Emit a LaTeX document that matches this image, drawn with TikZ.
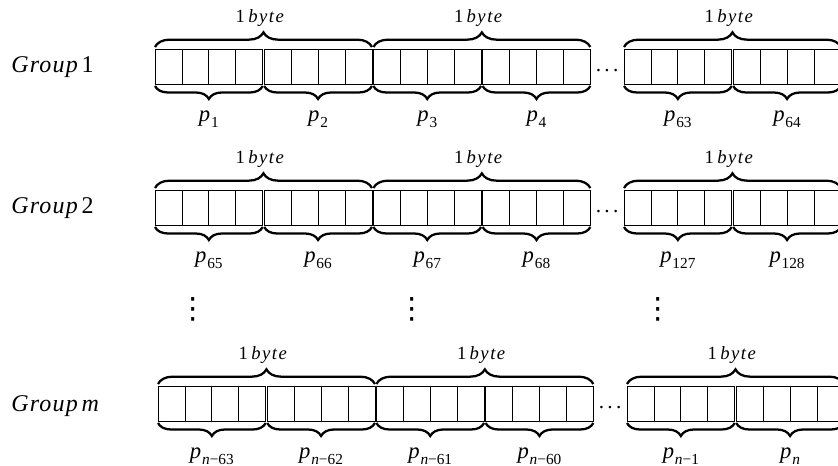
\documentclass[tikz,border=0pt]{standalone}
\usepackage{fontspec}
\setmainfont{Liberation Serif}
\newfontfamily\symfont{DejaVu Sans}
\usetikzlibrary{calc,decorations.pathreplacing}

% italic text with the loose spacing of math italic
\newcommand{\looseit}[2][5]{\textit{\addfontfeature{LetterSpace=#1}#2}}
% subscripted packet label p_{...}
\newcommand{\psub}[1]{\textit{p}\kern0.6pt\raisebox{-0.55ex}{\fontsize{11.5}{12}\selectfont #1}}

% one row of nibble blocks: name, top, x offset, six packet labels
\newcommand{\byterow}[9]{%
  \foreach \k/\x in {0/155,1/264.2,2/373.4,3/482.6,4/624,5/733.2} {
    \node[nib] (#1-\k) at (\x+#3,#2) {};
    \foreach \f in {0.25,0.5,0.75}
      \draw[cell] ($(#1-\k.north west)!\f!(#1-\k.north east)$) --
                  ($(#1-\k.south west)!\f!(#1-\k.south east)$);
    \draw[botbrace] ([yshift=-1.5pt]#1-\k.south west) -- ([yshift=-1.5pt]#1-\k.south east);
  }
  \draw[topbrace] ([yshift=1.5pt]#1-0.north west) -- ([yshift=1.5pt]#1-1.north east);
  \draw[topbrace] ([yshift=1.5pt]#1-2.north west) -- ([yshift=1.5pt]#1-3.north east);
  \draw[topbrace] ([yshift=1.5pt]#1-4.north west) -- ([yshift=1.5pt]#1-5.north east);
  \node[bytelab] (#1-b0) at ($(#1-0.north east)!0.5!(#1-1.north west)+(-3,-31)$) {1\kern2.5pt\looseit[8]{byte}};
  \node[bytelab] (#1-b1) at ($(#1-2.north east)!0.5!(#1-3.north west)+(-3,-31)$) {1\kern2.5pt\looseit[8]{byte}};
  \node[bytelab] (#1-b2) at ($(#1-4.north east)!0.5!(#1-5.north west)+(-3,-31)$) {1\kern2.5pt\looseit[8]{byte}};
  \node[plab] (#1-p0) at ($(#1-0.south)+(0,35)$) {#4};
  \node[plab] (#1-p1) at ($(#1-1.south)+(0,35)$) {#5};
  \node[plab] (#1-p2) at ($(#1-2.south)+(0,35)$) {#6};
  \node[plab] (#1-p3) at ($(#1-3.south)+(0,35)$) {#7};
  \node[plab] (#1-p4) at ($(#1-4.south)+(0,35)$) {#8};
  \node[plab] (#1-p5) at ($(#1-5.south)+(0,35)$) {#9};
  \node[hdots] (#1-dots) at ($(#1-3.east)!0.5!(#1-4.west)+(0,5)$) {.\kern2.4pt.\kern2.4pt.};
}

\begin{document}
\begin{tikzpicture}[x=0.75pt, y=-0.75pt,
  nib/.style={draw, line width=0.6pt, anchor=north west, inner sep=0pt, outer sep=0pt,
              minimum width=80.8pt, minimum height=26.25pt},
  cell/.style={line width=0.6pt},
  topbrace/.style={decorate, decoration={brace, amplitude=11pt}, line width=1.7pt},
  botbrace/.style={decorate, decoration={brace, mirror, amplitude=9.75pt}, line width=1.7pt},
  bytelab/.style={font=\fontsize{14}{16}\selectfont, inner sep=0pt},
  plab/.style={font=\fontsize{17}{19}\selectfont, inner sep=0pt},
  grouplab/.style={font=\fontsize{18}{20}\selectfont, anchor=base west, inner sep=0pt},
  hdots/.style={font=\fontsize{16}{16}\selectfont, anchor=base, inner sep=0pt},
  vdots/.style={font=\symfont\fontsize{22}{22}\selectfont, inner sep=0pt}]

\useasboundingbox (0,0) rectangle (838,466);

\byterow{r1}{49}{0}{\psub{1}}{\psub{2}}{\psub{3}}{\psub{4}}{\psub{63}}{\psub{64}}
\byterow{r2}{190}{0}{\psub{65}}{\psub{66}}{\psub{67}}{\psub{68}}{\psub{127}}{\psub{128}}
\byterow{r3}{386}{3}{\psub{\textit{n}−63}}{\psub{\textit{n}−62}}{\psub{\textit{n}−61}}{\psub{\textit{n}−60}}{\psub{\textit{n}−1}}{\psub{\textit{n}}}

\node[grouplab] (g1) at (11,73) {\looseit{Group}\kern2pt 1};
\node[grouplab] (g2) at (11,214) {\looseit{Group}\kern2pt 2};
\node[grouplab] (g3) at (11,411) {\looseit{Group}\kern2pt\looseit{m}};

\node[vdots] (v1) at (192.7,309) {⋮};
\node[vdots] (v2) at (412.3,309) {⋮};
\node[vdots] (v3) at (658.3,309) {⋮};
\end{tikzpicture}
\end{document}
